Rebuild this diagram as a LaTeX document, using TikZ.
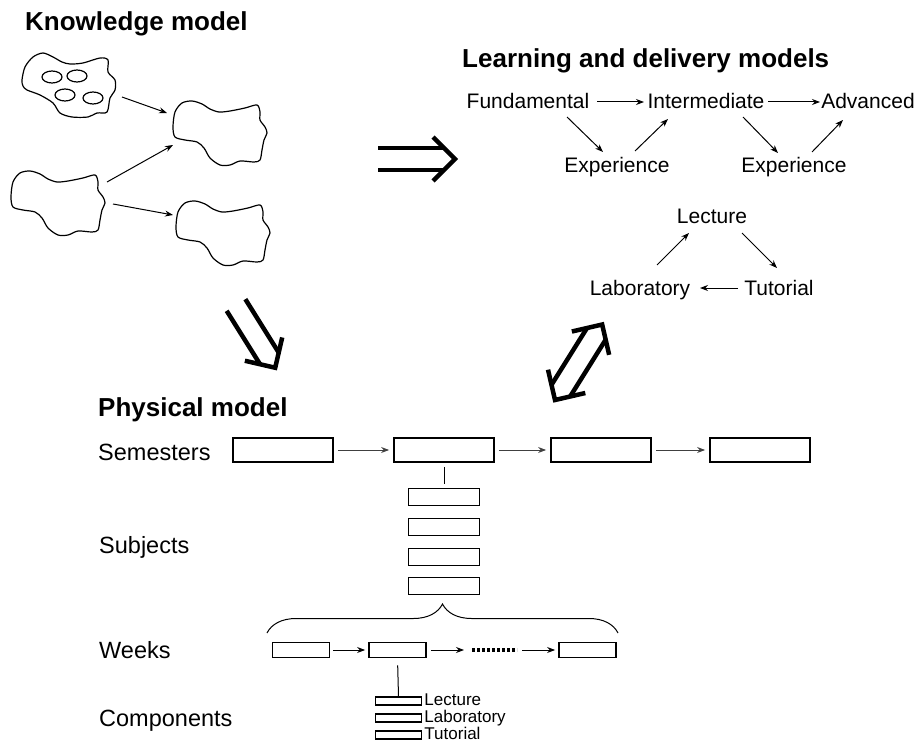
\documentclass[tikz,border=0pt]{standalone}
\usepackage{fontspec}
\setmainfont{Liberation Sans}
\usetikzlibrary{positioning, decorations.pathreplacing, calc, arrows.meta}
\tikzset{
    ttl/.style={anchor=base west, inner sep=0pt, font=\fontsize{26}{30}\selectfont\bfseries},
    txt/.style={anchor=base, inner sep=0pt, font=\fontsize{21}{25}\selectfont},
    rowname/.style={anchor=base west, inner sep=0pt, font=\fontsize{23.5}{27}\selectfont},
    small/.style={anchor=base west, inner sep=0pt, xshift=2pt, font=\fontsize{17}{19}\selectfont},
    arr/.style={-{Stealth[length=8pt,width=6pt]}, line width=1pt},
    frame/.style={draw, line width=1.8pt, inner sep=0pt},
    sem/.style={frame, minimum width=100pt, minimum height=24pt},
    subj/.style={frame, minimum width=71pt, minimum height=17pt},
    wk/.style={frame, minimum width=57pt, minimum height=15pt},
    comp/.style={frame, line width=1.5pt, minimum width=46pt, minimum height=8pt},
    fat/.style={line width=4.5pt},
    blob/.pic={
        \draw[line width=1.2pt] plot[smooth cycle] coordinates {(1,27) (3,12) (10,3) (20,1) (30,4) (38,9) (47,12) (58,11) (73,8) (85,5) (88,12) (88,20) (93,27) (95,33) (92,40) (90,50) (88,60) (82,62) (68,61) (58,65) (48,65) (38,58) (32,48) (25,42) (13,40) (3,37)};
    }
}

\begin{document}
\begin{tikzpicture}[x=1pt, y=-1pt]
    \useasboundingbox (0,0) rectangle (919,749);

    % knowledge model
    \node[ttl] (km) at (25,31) {Knowledge model};
    \draw[line width=1.2pt] plot[smooth cycle] coordinates {(22,80) (25,67) (33,57) (43,53) (53,57) (62,62) (70,64) (83,63) (100,58) (108,60) (108,72) (115,80) (115,90) (110,98) (107,112) (97,113) (88,117) (72,117) (60,113) (53,103) (40,95) (27,90) (23,86)};
    \draw[line width=1.2pt] (52,77) ellipse [x radius=10pt, y radius=6pt];
    \draw[line width=1.2pt] (77,76) ellipse [x radius=10pt, y radius=6pt];
    \draw[line width=1.2pt] (65,95) ellipse [x radius=10pt, y radius=6pt];
    \draw[line width=1.2pt] (93,98) ellipse [x radius=10pt, y radius=6pt];
    \pic at (172,100) {blob};
    \pic at (10,170) {blob};
    \pic at (175,200) {blob};
    \coordinate (a1) at (122,97);
    \coordinate (b1) at (167,113);
    \coordinate (c1) at (107,182);
    \coordinate (b2) at (173,145);
    \coordinate (c2) at (113,204);
    \coordinate (d1) at (173,215);
    \draw[arr] (a1) -- (b1);
    \draw[arr] (c1) -- (b2);
    \draw[arr] (c2) -- (d1);

    % big arrows between the models
    \begin{scope}[shift={(378,159)}]
        \draw[fat] (0,-11) -- (66,-11) (0,11) -- (66,11);
        \draw[fat] (55,-22) -- (77,0) -- (55,22);
    \end{scope}
    \begin{scope}[shift={(236,305)}, rotate=-58]
        \draw[fat] (0,-11) -- (63,-11) (0,11) -- (63,11);
        \draw[fat] (52,-22) -- (74,0) -- (52,22);
    \end{scope}
    \begin{scope}[shift={(555,400)}, rotate=58]
        \draw[fat] (11,-11) -- (78,-11) (11,11) -- (78,11);
        \draw[fat] (22,-22) -- (0,0) -- (22,22);
        \draw[fat] (67,-22) -- (89,0) -- (67,22);
    \end{scope}

    % learning and delivery models
    \node[ttl] (ldm) at (462,68) {Learning and delivery models};
    \node[txt] (F) at (528,109) {Fundamental};
    \node[txt] (I) at (706,109) {Intermediate};
    \node[txt] (A) at (868,109) {Advanced};
    \node[txt] (E1) at (617,173) {Experience};
    \node[txt] (E2) at (794,173) {Experience};
    \draw[arr] ([shift={(69,-7)}]F.base) -- ([shift={(-62,-7)}]I.base);
    \draw[arr] ([shift={(62,-7)}]I.base) -- ([shift={(-48,-7)}]A.base);
    \draw[arr] ([shift={(39,8)}]F.base) -- ([shift={(-14,-21)}]E1.base);
    \draw[arr] ([shift={(18,-22)}]E1.base) -- ([shift={(-38,10)}]I.base);
    \draw[arr] ([shift={(37,8)}]I.base) -- ([shift={(-16,-20)}]E2.base);
    \draw[arr] ([shift={(18,-21)}]E2.base) -- ([shift={(-25,11)}]A.base);

    \node[txt] (lec) at (712,223) {Lecture};
    \node[txt] (lab) at (640,295) {Laboratory};
    \node[txt] (tut) at (779,295) {Tutorial};
    \draw[arr] ([shift={(17,-30)}]lab.base) -- ([shift={(-23,10)}]lec.base);
    \draw[arr] ([shift={(30,10)}]lec.base) -- ([shift={(-2,-27)}]tut.base);
    \draw[arr] ([shift={(-41,-7)}]tut.base) -- ([shift={(60,-7)}]lab.base);

    % physical model
    \node[ttl] (pm) at (98,416) {Physical model};
    \node[rowname] (rs) at (98,460) {Semesters};
    \node[rowname] (rj) at (99,553) {Subjects};
    \node[rowname] (rw) at (99,658) {Weeks};
    \node[rowname] (rc) at (99,726) {Components};

    \node[sem] (s1) at (283,450) {};
    \node[sem] (s2) at (444,450) {};
    \node[sem] (s3) at (601,450) {};
    \node[sem] (s4) at (760,450) {};
    \foreach \a/\b in {s1/s2, s2/s3, s3/s4}
        \draw[arr, black!75, shorten <=4pt, shorten >=4pt] (\a) -- (\b);

    \node[subj] (j1) at (444,497) {};
    \node[subj] (j2) at (444,527) {};
    \node[subj] (j3) at (444,557) {};
    \node[subj] (j4) at (444,586) {};
    \draw[line width=1pt, shorten <=4pt, shorten >=4pt] (s2.south) -- (j1.north);

    \coordinate (br1) at (267,633);
    \coordinate (br2) at (618,633);
    \draw[line width=1pt, decorate, decoration={brace, amplitude=29pt}] (br1) -- (br2);

    \node[wk] (w1) at (301,650) {};
    \node[wk] (w2) at (397.5,650) {};
    \node[wk] (w3) at (587.5,650) {};
    \coordinate (dots1) at (472,650);
    \coordinate (dots2) at (517,650);
    \draw[arr, shorten <=3pt, shorten >=3pt] (w1) -- (w2);
    \draw[arr, shorten <=4pt, shorten >=8pt] (w2) -- (dots1);
    \draw[line width=4pt, dash pattern=on 3pt off 2pt] (dots1) -- (dots2);
    \draw[arr, shorten <=5pt, shorten >=3pt] (dots2) -- (w3);

    \node[comp] (p1) at (398.5,701) {};
    \node[comp] (p2) at (398.5,718) {};
    \node[comp] (p3) at (398.5,735) {};
    \draw[line width=1pt, shorten <=7pt] (w2.south) -- (p1.north);
    \node[small] (pl1) at (p1.south east) {Lecture};
    \node[small] (pl2) at (p2.south east) {Laboratory};
    \node[small] (pl3) at (p3.south east) {Tutorial};
\end{tikzpicture}
\end{document}
